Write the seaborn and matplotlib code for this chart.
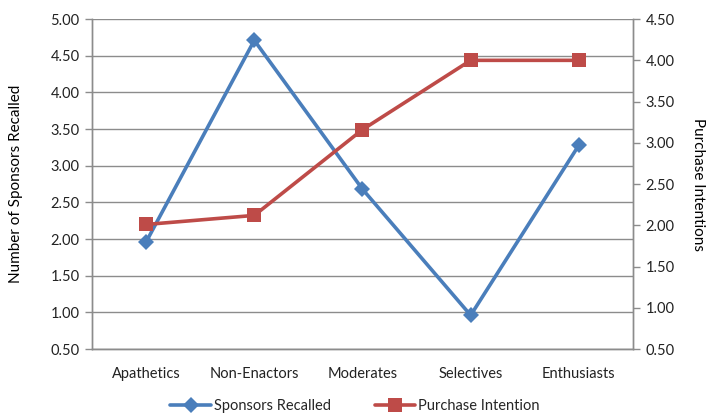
import matplotlib
matplotlib.use("Agg")
import matplotlib.pyplot as plt
import matplotlib.ticker as mticker
import numpy as np
import pandas as pd
import seaborn as sns

segments = ['Apathetics', 'Non-Enactors', 'Moderates', 'Selectives', 'Enthusiasts']
sponsors_recalled = [1.96, 4.71, 2.68, 0.96, 3.28]
purchase_intention = [2.01, 2.12, 3.16, 4.00, 4.00]

BLUE = '#4A7EBB'
RED = '#BE4B48'
GRID = '#8C8C8C'

sns.set_style('white')
plt.rcParams['font.family'] = ['Lato', 'DejaVu Sans']

df = pd.DataFrame({
    'Segment': segments,
    'Sponsors Recalled': sponsors_recalled,
    'Purchase Intention': purchase_intention,
})

fig = plt.figure(figsize=(7.1, 4.15), dpi=100)
ax = fig.add_axes([0.1296, 0.159, 0.7619, 0.795])
ax2 = ax.twinx()

sns.lineplot(data=df, x='Segment', y='Sponsors Recalled', ax=ax, sort=False,
             color=BLUE, lw=2.6, marker='D', markersize=8, markeredgewidth=0,
             label='Sponsors Recalled', legend=False)
sns.lineplot(data=df, x='Segment', y='Purchase Intention', ax=ax2, sort=False,
             color=RED, lw=2.6, marker='s', markersize=9.5, markeredgewidth=0,
             label='Purchase Intention', legend=False)

ax.set_ylim(0.5, 5.0)
ax.set_yticks(np.arange(0.5, 5.01, 0.5))
ax.yaxis.set_major_formatter(mticker.FormatStrFormatter('%.2f'))
ax2.set_ylim(0.5, 4.5)
ax2.set_yticks(np.arange(0.5, 4.51, 0.5))
ax2.yaxis.set_major_formatter(mticker.FormatStrFormatter('%.2f'))

ax.set_xlim(-0.5, len(segments) - 0.5)
ax.set_xticks(range(len(segments)))
ax.set_xticklabels(segments)
ax.set_xticks(np.arange(-0.5, len(segments)), minor=True)
ax.tick_params(axis='x', which='major', length=0, pad=13, labelsize=10.5)
ax.tick_params(axis='x', which='minor', length=5, color=GRID, width=1)
ax.tick_params(axis='y', length=5, color=GRID, width=1, labelsize=10.5, pad=4)
ax2.tick_params(axis='y', length=5, color=GRID, width=1, labelsize=10.5, pad=4)
for t in ax.get_xticklabels() + ax.get_yticklabels() + ax2.get_yticklabels():
    t.set_color('#222222')

ax.yaxis.grid(True, color=GRID, lw=1)
ax.set_axisbelow(True)

for a in (ax, ax2):
    a.spines['top'].set_visible(False)
    for s in ('left', 'right', 'bottom'):
        a.spines[s].set_color(GRID)
        a.spines[s].set_linewidth(1)

ax.set_xlabel('')
ax.set_ylabel('Number of Sponsors Recalled', fontsize=11, color='black', labelpad=20)
ax2.set_ylabel('Purchase Intentions', fontsize=11, color='black', rotation=-90, labelpad=22)

h1, l1 = ax.get_legend_handles_labels()
h2, l2 = ax2.get_legend_handles_labels()
fig.legend(h1 + h2, l1 + l2, loc='center', bbox_to_anchor=(0.5, 0.022), ncol=2,
           frameon=False, fontsize=10.5, handlelength=2.8, columnspacing=3.0,
           handletextpad=0.2)

fig.savefig('out.png', dpi=100)
